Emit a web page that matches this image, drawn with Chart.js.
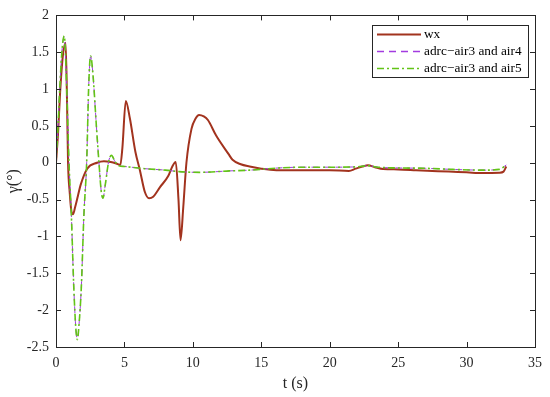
<!DOCTYPE html>
<html>
<head>
<meta charset="utf-8">
<script src="https://cdn.jsdelivr.net/npm/chart.js@4/dist/chart.umd.min.js"></script>
<style>
html,body{margin:0;padding:0;background:#fff;}
#wrap{width:550px;height:397px;position:relative;}
</style>
</head>
<body>
<div id="wrap"><canvas id="c" width="550" height="397"></canvas></div>
<script>
// ---- data ----
const seriesNames = ['wx', 'adrc\u2212air3 and air4', 'adrc\u2212air3 and air5'];
const xTicks = [0, 5, 10, 15, 20, 25, 30, 35];
const yTicks = [2, 1.5, 1, 0.5, 0, -0.5, -1, -1.5, -2, -2.5];

const tWx = [0,0.15,0.3,0.5,0.7,0.8,0.88,1.0,1.12,1.24,1.4,1.6,1.8,2.28,3.0,3.5,4.0,4.4,4.7,4.85,5.1,5.4,5.8,6.13,6.5,6.8,7.1,7.6,8.2,8.5,8.75,8.95,9.1,9.3,9.53,9.9,10.2,10.45,10.8,11.1,11.7,12.6,12.9,13.5,14.15,15,16.1,17.8,19,20,21.4,21.9,22.4,22.8,23.3,23.9,25,26.3,27.5,28.7,30,31.2,32.4,32.7,32.9];
const wx  = [0,0.4,0.95,1.45,1.63,0.9,0.0,-0.4,-0.65,-0.7,-0.6,-0.45,-0.3,-0.08,0.0,0.02,0.01,-0.01,-0.03,0.2,0.84,0.6,0.15,-0.1,-0.4,-0.48,-0.46,-0.33,-0.18,-0.05,0.01,-0.5,-1.05,-0.6,0.0,0.46,0.6,0.65,0.63,0.58,0.37,0.12,0.04,-0.02,-0.05,-0.08,-0.1,-0.1,-0.1,-0.1,-0.11,-0.08,-0.05,-0.035,-0.06,-0.085,-0.09,-0.1,-0.11,-0.12,-0.13,-0.14,-0.135,-0.12,-0.05];

const tAir4 = [0,0.15,0.3,0.45,0.6,0.75,0.95,1.12,1.3,1.45,1.56,1.68,1.85,2.04,2.24,2.4,2.53,2.7,2.95,3.14,3.3,3.43,3.6,3.85,4.06,4.3,4.6,5,5.5,6.5,8,9,10.5,12.7,14.15,16.3,18,20,22,22.8,23.5,25,27,29,31.2,32.4,32.9];
const air4  = [0,0.5,1.1,1.55,1.71,1.2,0.0,-0.7,-1.69,-2.25,-2.39,-2.2,-1.69,-0.7,0.0,1.1,1.44,1.2,0.5,0.0,-0.38,-0.48,-0.3,0.02,0.1,0.02,-0.04,-0.05,-0.06,-0.08,-0.1,-0.12,-0.13,-0.11,-0.1,-0.07,-0.06,-0.06,-0.055,-0.04,-0.06,-0.07,-0.075,-0.09,-0.1,-0.09,-0.03];

const tAir5 = [0,0.15,0.3,0.45,0.6,0.75,0.95,1.12,1.3,1.45,1.56,1.68,1.85,2.04,2.24,2.4,2.53,2.7,2.95,3.14,3.3,3.43,3.6,3.85,4.06,4.3,4.6,5,5.5,6.5,8,9,10.5,12.7,14.15,16.3,18,20,22,22.8,23.5,25,27,29,31.2,32.4,32.9];
const air5  = [0,0.5,1.1,1.55,1.72,1.2,0.0,-0.7,-1.69,-2.25,-2.4,-2.2,-1.69,-0.7,0.0,1.1,1.45,1.2,0.5,0.0,-0.38,-0.48,-0.3,0.02,0.1,0.02,-0.04,-0.05,-0.06,-0.08,-0.1,-0.12,-0.13,-0.11,-0.1,-0.07,-0.06,-0.06,-0.055,-0.04,-0.06,-0.07,-0.075,-0.09,-0.1,-0.09,-0.03];

const pts = (xs, ys) => xs.map((x, i) => ({x: x, y: ys[i]}));

const colRed = '#A2331E', colPurple = '#A23BE0', colGreen = '#62C416';
const FONT = "'Liberation Serif', 'DejaVu Serif', serif";

const frameTicks = {
  id: 'frameTicks',
  afterDraw(chart) {
    const {ctx, chartArea: a, scales} = chart;
    ctx.save();
    ctx.strokeStyle = '#262626';
    ctx.lineWidth = 1;
    ctx.strokeRect(Math.round(a.left) + 0.5, Math.round(a.top) + 0.5, Math.round(a.right - a.left), Math.round(a.bottom - a.top));
    ctx.beginPath();
    const L = 5;
    xTicks.forEach(v => {
      const x = Math.round(scales.x.getPixelForValue(v)) + 0.5;
      ctx.moveTo(x, a.bottom); ctx.lineTo(x, a.bottom - L);
      ctx.moveTo(x, a.top); ctx.lineTo(x, a.top + L);
    });
    yTicks.forEach(v => {
      const y = Math.round(scales.y.getPixelForValue(v)) + 0.5;
      ctx.moveTo(a.left, y); ctx.lineTo(a.left + L, y);
      ctx.moveTo(a.right, y); ctx.lineTo(a.right - L, y);
    });
    ctx.stroke();

    // legend
    const bx = 372.5, by = 25.5, bw = 156, bh = 52;
    ctx.fillStyle = '#fff';
    ctx.fillRect(bx, by, bw, bh);
    ctx.strokeStyle = '#262626';
    ctx.strokeRect(bx, by, bw, bh);
    const ds = chart.data.datasets;
    ctx.font = '13.3px ' + FONT;
    ctx.textBaseline = 'middle';
    ds.forEach((d, i) => {
      const y = 34.5 + i * 17;
      ctx.beginPath();
      ctx.strokeStyle = d.borderColor;
      ctx.lineWidth = Math.max(d.borderWidth, 1.5);
      ctx.setLineDash(d.borderDash || []);
      ctx.moveTo(377, y); ctx.lineTo(421, y);
      ctx.stroke();
      ctx.setLineDash([]);
      ctx.fillStyle = '#000';
      ctx.fillText(seriesNames[i], 424, y + 0.5);
    });
    ctx.restore();
  }
};

new Chart(document.getElementById('c'), {
  type: 'line',
  data: {
    datasets: [
      {label: seriesNames[0], data: pts(tWx, wx), borderColor: colRed, borderWidth: 2, pointRadius: 0, cubicInterpolationMode: 'monotone', fill: false, order: 3},
      {label: seriesNames[1], data: pts(tAir4, air4), borderColor: colPurple, borderWidth: 1, borderDash: [7, 5], pointRadius: 0, cubicInterpolationMode: 'monotone', fill: false, order: 2},
      {label: seriesNames[2], data: pts(tAir5, air5), borderColor: colGreen, borderWidth: 1.6, borderDash: [7, 3, 2, 3], pointRadius: 0, cubicInterpolationMode: 'monotone', fill: false, order: 1}
    ]
  },
  options: {
    responsive: false,
    animation: false,
    devicePixelRatio: 1,
    layout: {padding: {left: 0, right: 14, top: 12, bottom: 0}},
    plugins: {legend: {display: false}, tooltip: {enabled: false}},
    scales: {
      x: {
        type: 'linear', min: 0, max: 35,
        afterBuildTicks: s => { s.ticks = xTicks.map(v => ({value: v})); },
        afterFit: s => { s.height = 50; },
        grid: {display: false, drawTicks: false},
        border: {display: false},
        ticks: {color: '#262626', font: {family: FONT, size: 14}, padding: 8, maxRotation: 0, callback: v => String(v)},
        title: {display: true, text: 't (s)', color: '#262626', font: {family: FONT, size: 16}, padding: {top: 2, bottom: 4}}
      },
      y: {
        type: 'linear', min: -2.5, max: 2,
        afterBuildTicks: s => { s.ticks = yTicks.map(v => ({value: v})); },
        afterFit: s => { s.width = 56; },
        grid: {display: false, drawTicks: false},
        border: {display: false},
        ticks: {color: '#262626', font: {family: FONT, size: 14}, padding: 7, callback: v => String(v)},
        title: {display: true, text: '\u03B3(\u00B0)', color: '#262626', font: {family: FONT, size: 16}, padding: {top: 4, bottom: 4}}
      }
    }
  },
  plugins: [frameTicks]
});
</script>
</body>
</html>
